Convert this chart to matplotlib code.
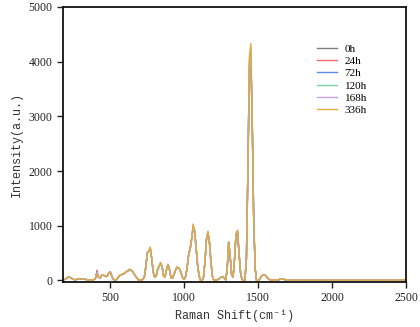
import matplotlib
matplotlib.use("Agg")
import matplotlib.pyplot as plt
import numpy as np

# Raman shift grid (cm-1)
shift = list(range(180, 1701, 10)) + list(range(1750, 2501, 50))

# baseline spectrum (0h)
base_0h = [
    10, 15, 30, 55, 60, 50, 35, 20, 10, 15,          # 180-270
    25, 30, 30, 25, 30, 25, 10, 5, 5, 5,             # 280-370
    10, 15, 40, 140, 60, 40, 90, 100, 85, 70,        # 380-470
    80, 140, 150, 80, 20, 5, 10, 40, 80, 100,        # 480-570
    110, 120, 140, 160, 180, 195, 190, 160, 120, 80, # 580-670
    40, 10, 0, 5, 20, 60, 250, 500, 530, 580,        # 680-770
    400, 150, 60, 80, 200, 260, 310, 250, 80, 60,    # 780-870
    200, 290, 200, 50, 40, 100, 180, 240, 230, 200,  # 880-970
    120, 40, 20, 80, 250, 480, 580, 760, 960, 900,   # 980-1070
    600, 280, 80, 0, -10, 60, 350, 750, 860, 700,    # 1080-1170
    350, 80, 0, 0, 10, 20, 40, 60, 70, 40,           # 1180-1270
    10, 200, 700, 450, 100, 60, 400, 850, 880, 500,  # 1280-1370
    150, 20, -10, 0, 400, 2000, 3800, 4050, 2800, 1000,  # 1380-1470
    200, -30, -20, 20, 70, 100, 105, 85, 50, 25,     # 1480-1570
    10, 5, 5, 5, 5, 10, 15, 20, 20, 20,              # 1580-1670
    15, 10, 5,                                       # 1680-1700
    5, 5, 5, 5, 5, 5, 5, 5, 5, 5, 5, 5, 5, 5, 8, 10,  # 1750-2500
]

# values where later spectra differ from 0h (shift: intensity)
diff_24h = {410: 185, 500: 160, 630: 200, 770: 600, 1060: 990, 1160: 880,
            1360: 900, 1440: 3900, 1450: 4150}
diff_72h = {410: 150, 630: 185, 770: 560, 1060: 950, 1160: 860,
            1360: 890, 1440: 3850, 1450: 4100}
diff_120h = {410: 130, 620: 170, 630: 180, 640: 175, 770: 590, 1060: 980,
             1160: 870, 1360: 900, 1440: 3950, 1450: 4200}
diff_168h = {410: 140, 630: 200, 770: 600, 1060: 1000, 1160: 880,
             1360: 910, 1440: 4000, 1450: 4250}
diff_336h = {410: 120, 630: 205, 770: 610, 840: 330, 1060: 1030, 1160: 900,
             1360: 920, 1440: 4100, 1450: 4330}

labels = ["0h", "24h", "72h", "120h", "168h", "336h"]
colors = ["#7f7f7f", "#f26b6b", "#5b8de3", "#7ed3a2", "#c6a2ee", "#e2aa3c"]
diffs = [{}, diff_24h, diff_72h, diff_120h, diff_168h, diff_336h]

serif = ["Liberation Serif", "DejaVu Serif"]
mono = ["Liberation Mono", "DejaVu Sans Mono"]

fig = plt.figure(figsize=(4.2, 3.27), dpi=100)
ax = fig.add_axes([0.15, 0.1376, 0.817, 0.841])

for lab, col, d in zip(labels, colors, diffs):
    vals = [d.get(s, v) for s, v in zip(shift, base_0h)]
    ax.plot(shift, vals, color=col, lw=1.0, label=lab)

ax.set_xlim(180, 2500)
ax.set_ylim(-30, 5000)
ax.set_xticks([500, 1000, 1500, 2000, 2500])
ax.set_yticks([0, 1000, 2000, 3000, 4000, 5000])
for sp in ax.spines.values():
    sp.set_linewidth(1.3)
    sp.set_color("#111111")
ax.tick_params(direction="out", length=4, width=1.0, labelsize=8.5, colors="#222222")
for t in ax.get_xticklabels() + ax.get_yticklabels():
    t.set_family(serif)

ax.set_xlabel("Raman Shift(cm⁻¹)", family=mono, fontsize=8.5, color="#333333", labelpad=4)
ax.set_ylabel("Intensity(a.u.)", family=mono, fontsize=8.5, color="#333333", labelpad=4)

leg = ax.legend(loc="upper left", bbox_to_anchor=(0.74, 0.865), frameon=False,
                prop={"family": serif, "size": 8}, handlelength=1.8,
                handletextpad=0.7, labelspacing=0.22, borderpad=0, borderaxespad=0)

fig.savefig("out.png", dpi=100)
